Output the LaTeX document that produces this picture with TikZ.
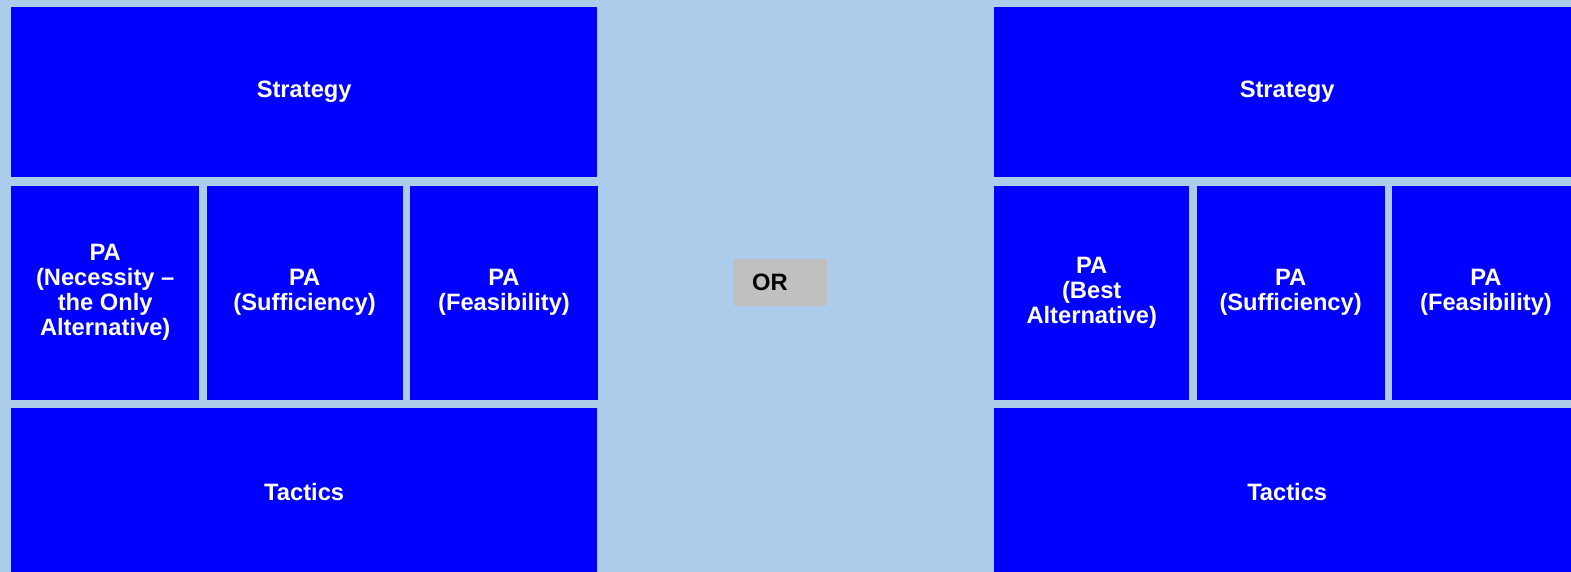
\documentclass[tikz,border=0pt]{standalone}
\usepackage{fontspec}
\setmainfont{Liberation Sans}
\usetikzlibrary{positioning}
\definecolor{paneBg}{RGB}{171,205,235}
\definecolor{boxBlue}{RGB}{0,0,255}
\definecolor{orGray}{RGB}{192,192,192}

\begin{document}
\begin{tikzpicture}[
    x=1pt, y=-1pt,
    box/.style={rectangle, fill=boxBlue, text=white, inner sep=0pt, align=center,
                font=\fontsize{23.7}{25}\selectfont\bfseries},
    widebox/.style={box, minimum width=586pt, minimum height=170pt},
    lowbox/.style={box, minimum width=586pt, minimum height=168pt},
    pabox/.style={box, minimum height=214pt},
    orbox/.style={rectangle, fill=orGray, text=black, inner xsep=19pt, inner ysep=0pt,
                  text width=56pt, align=left, minimum height=47pt,
                  font=\fontsize{23.7}{25}\selectfont\bfseries},
  ]
    \fill[paneBg] (0,0) rectangle (1571,572);
    \useasboundingbox (0,0) rectangle (1571,572);

    % Left column
    \node[widebox, anchor=north west] (stratL) at (11,7) {Strategy};
    \node[pabox, minimum width=188pt, below=8pt of stratL.south west, anchor=north west] (necL)
        {PA\\(Necessity –\\the Only\\Alternative)};
    \node[pabox, minimum width=196pt, right=7pt of necL] (sufL) {PA\\(Sufficiency)};
    \node[pabox, minimum width=188pt, right=7pt of sufL] (feasL) {PA\\(Feasibility)};
    \node[lowbox, below=8pt of necL.south west, anchor=north west] (tacL) {Tactics};

    % Middle
    \node[orbox, anchor=north west] (or) at (733,259) {OR};

    % Right column
    \node[widebox, anchor=north west] (stratR) at (994,7) {Strategy};
    \node[pabox, minimum width=195pt, below=8pt of stratR.south west, anchor=north west] (bestR)
        {PA\\(Best\\Alternative)};
    \node[pabox, minimum width=188pt, right=7pt of bestR] (sufR) {PA\\(Sufficiency)};
    \node[pabox, minimum width=188pt, right=7pt of sufR] (feasR) {PA\\(Feasibility)};
    \node[lowbox, below=8pt of bestR.south west, anchor=north west] (tacR) {Tactics};
\end{tikzpicture}
\end{document}
